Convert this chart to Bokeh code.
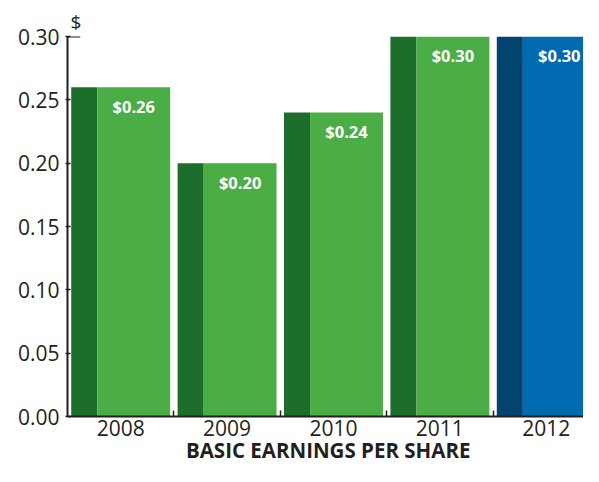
from bokeh.plotting import figure
from bokeh.models import (ColumnDataSource, FixedTicker, NumeralTickFormatter, Range1d,
                          Title, LinearAxis)
from bokeh.core.properties import value
from bokeh.embed import file_html
from bokeh.resources import INLINE

years = ["2008", "2009", "2010", "2011", "2012"]
eps = [0.26, 0.20, 0.24, 0.30, 0.30]
eps_labels = ["$0.26", "$0.20", "$0.24", "$0.30", "$0.30"]
dark_colors = ["#1d6e2a", "#1d6e2a", "#1d6e2a", "#1d6e2a", "#00446f"]
light_colors = ["#4aad46", "#4aad46", "#4aad46", "#4aad46", "#006bb0"]
y_ticks = [0.0, 0.05, 0.10, 0.15, 0.20, 0.25, 0.30]
title_text = "BASIC EARNINGS PER SHARE"
unit_text = "$"

FONT = "Open Sans"
INK = "#231f20"
BAR_W = 0.93
DARK_W = 0.245
TITLE_X = 1.95

xs = list(range(len(years)))
src = ColumnDataSource(dict(
    x=xs,
    top=eps,
    label=eps_labels,
    dark_left=[x - BAR_W / 2 for x in xs],
    dark_right=[x - BAR_W / 2 + DARK_W for x in xs],
    light_right=[x + BAR_W / 2 for x in xs],
    label_x=[x - BAR_W / 2 + DARK_W + (BAR_W - DARK_W) / 2 for x in xs],
    dark=dark_colors,
    light=light_colors,
))

p = figure(width=583, height=466, output_backend="svg", toolbar_location=None,
           x_range=Range1d(-0.5, 4.35), y_range=Range1d(0, 0.30),
           min_border_left=67, min_border_right=0, min_border_top=36, min_border_bottom=46)
p.outline_line_color = None
p.grid.visible = False
p.background_fill_color = "white"

p.quad(left="dark_left", right="dark_right", bottom=0, top="top", fill_color="dark",
       line_color=None, source=src)
p.quad(left="dark_right", right="light_right", bottom=0, top="top", fill_color="light",
       line_color=None, source=src)
p.text(x="label_x", y="top", text="label", source=src, text_color="white",
       text_font=value(FONT), text_font_style="bold", text_font_size="16.5px",
       text_align="center", text_baseline="middle", y_offset=19)

# top cap tick of y axis
p.segment(x0=[-0.5], y0=[y_ticks[-1]], x1=[-0.5 + 0.12], y1=[y_ticks[-1]],
          line_color=INK, line_width=2)

# y axis
p.yaxis.ticker = FixedTicker(ticks=y_ticks)
p.yaxis.formatter = NumeralTickFormatter(format="0.00")
p.yaxis.axis_line_color = INK
p.yaxis.axis_line_width = 2
p.yaxis.major_tick_in = 3
p.yaxis.major_tick_out = 2
p.yaxis.major_tick_line_color = INK
p.yaxis.major_tick_line_width = 1.5
p.yaxis.minor_tick_line_color = None
p.yaxis.major_label_text_font = FONT
p.yaxis.major_label_text_font_size = "21px"
p.yaxis.major_label_text_color = INK
p.yaxis.major_label_standoff = 6

# x axis
p.xaxis.ticker = FixedTicker(ticks=xs, minor_ticks=[0.5, 1.5, 2.5, 3.5])
p.xaxis.major_label_overrides = {i: y for i, y in enumerate(years)}
p.xaxis.axis_line_color = INK
p.xaxis.axis_line_width = 2
p.xaxis.major_tick_in = 0
p.xaxis.major_tick_out = 0
p.xaxis.minor_tick_in = 6
p.xaxis.minor_tick_out = 0
p.xaxis.minor_tick_line_color = INK
p.xaxis.minor_tick_line_width = 1.5
p.xaxis.major_label_text_font = FONT
p.xaxis.major_label_text_font_size = "21px"
p.xaxis.major_label_text_color = INK
p.xaxis.major_label_standoff = 3

# title as a label-only axis below the year axis
title_axis = LinearAxis(ticker=FixedTicker(ticks=[TITLE_X], minor_ticks=[]),
                        major_label_overrides={TITLE_X: title_text},
                        axis_line_color=None, major_tick_line_color=None,
                        minor_tick_line_color=None, major_tick_in=0, major_tick_out=0,
                        minor_tick_in=0, minor_tick_out=0, major_label_standoff=-3,
                        major_label_text_font=FONT, major_label_text_font_style="bold",
                        major_label_text_font_size="20.5px", major_label_text_color=INK)
p.add_layout(title_axis, "below")

p.add_layout(Title(text=unit_text, align="left", offset=3, standoff=3,
                   text_font=FONT, text_font_style="normal", text_font_size="19px",
                   text_color=INK), "above")

open("out.html", "w").write(file_html(p, INLINE))
